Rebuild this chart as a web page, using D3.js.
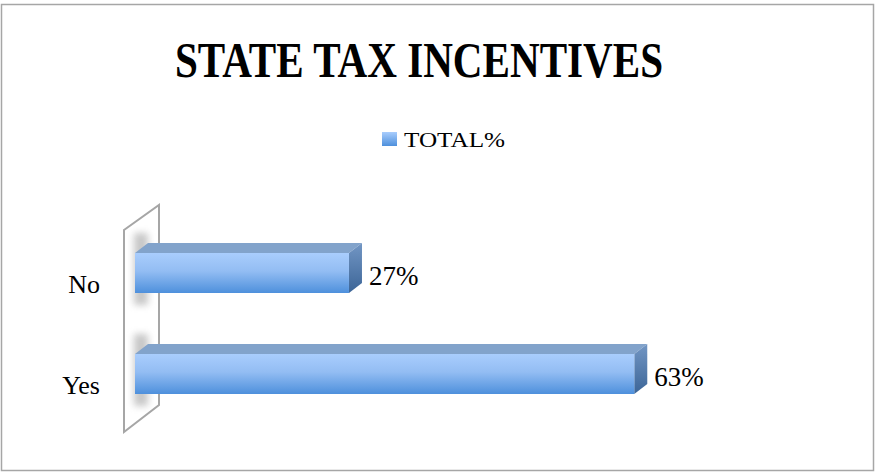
<!DOCTYPE html>
<html><head><meta charset="utf-8">
<script src="https://cdn.jsdelivr.net/npm/d3@7"></script>
<style>body{margin:0;background:#fff}svg{display:block}</style>
</head><body>
<script>
const titleText = "STATE TAX INCENTIVES";
const seriesName = "TOTAL%";
const categories = ["No", "Yes"];
const values = [0.27, 0.63];
const valueLabels = ["27%", "63%"];

const W = 876, H = 473;
const svg = d3.select("body").append("svg").attr("width", W).attr("height", H);
const defs = svg.append("defs");
const gFront = defs.append("linearGradient").attr("id","gFront").attr("x1",0).attr("y1",0).attr("x2",0).attr("y2",1);
gFront.append("stop").attr("offset","0%").attr("stop-color","#a9cdfd");
gFront.append("stop").attr("offset","45%").attr("stop-color","#93bdf3");
gFront.append("stop").attr("offset","100%").attr("stop-color","#4e90dc");
const gSide = defs.append("linearGradient").attr("id","gSide").attr("x1",0).attr("y1",0).attr("x2",0).attr("y2",1);
gSide.append("stop").attr("offset","0%").attr("stop-color","#7296c4");
gSide.append("stop").attr("offset","100%").attr("stop-color","#3c6597");
const gLeg = defs.append("linearGradient").attr("id","gLeg").attr("x1",0).attr("y1",0).attr("x2",0).attr("y2",1);
gLeg.append("stop").attr("offset","0%").attr("stop-color","#a9cdfd");
gLeg.append("stop").attr("offset","100%").attr("stop-color","#4e90dc");
defs.append("filter").attr("id","blur").attr("x","-100%").attr("y","-50%").attr("width","300%").attr("height","200%")
  .append("feGaussianBlur").attr("stdDeviation",3.5);

// outer border
svg.append("rect").attr("x",1.5).attr("y",4.5).attr("width",872).attr("height",466)
  .attr("fill","#fff").attr("stroke","#a6a6a6").attr("stroke-width",1.5);

// title
svg.append("text").attr("x",419).attr("y",77).attr("text-anchor","middle")
  .attr("font-family","'Liberation Serif', 'DejaVu Serif', serif").attr("font-weight","bold")
  .attr("font-size",50).attr("textLength",488).attr("lengthAdjust","spacingAndGlyphs")
  .attr("fill","#000").text(titleText);

// legend
svg.append("rect").attr("x",382).attr("y",132).attr("width",15).attr("height",14).attr("fill","url(#gLeg)");
svg.append("text").attr("x",404).attr("y",146.5)
  .attr("font-family","'Liberation Serif', serif").attr("font-size",22)
  .attr("textLength",101).attr("lengthAdjust","spacingAndGlyphs")
  .attr("fill","#000").text(seriesName);

// scales
const x0 = 135;
const x = d3.scaleLinear().domain([0, 0.8]).range([x0, x0 + 634]);
const y = d3.scalePoint().domain(categories).range([273, 374]);
const barH = 40, dx = 13, dy = -10;

// wall
svg.append("polygon").attr("points","124,230 159,205 159,405 124,432")
  .attr("fill","#fff").attr("stroke","#a6a6a6").attr("stroke-width",2);

const data = categories.map((c,i)=>({c, v: values[i], label: valueLabels[i]}));

// shadows on wall
svg.selectAll(".shadow").data(data).enter().append("rect")
  .attr("x", 134).attr("y", d => y(d.c) - barH/2 - 20).attr("width", 14).attr("height", barH + 32)
  .attr("fill","#9a9a9a").attr("opacity",0.55).attr("filter","url(#blur)");

const bars = svg.selectAll(".bar").data(data).enter().append("g");
// top face
bars.append("polygon").attr("points", d => {
  const t = y(d.c) - barH/2, r = x(d.v);
  return `${x0},${t} ${x0+dx},${t+dy} ${r+dx},${t+dy} ${r},${t}`;
}).attr("fill","#82a3cb");
// side face
bars.append("polygon").attr("points", d => {
  const t = y(d.c) - barH/2, r = x(d.v);
  return `${r},${t} ${r+dx},${t+dy} ${r+dx},${t+barH+dy} ${r},${t+barH}`;
}).attr("fill","url(#gSide)");
// front face
bars.append("rect").attr("x", x0).attr("y", d => y(d.c) - barH/2)
  .attr("width", d => x(d.v) - x0).attr("height", barH).attr("fill","url(#gFront)");

// value labels
bars.append("text").attr("x", d => x(d.v) + dx + 7).attr("y", d => y(d.c) + 12)
  .attr("font-family","'Liberation Serif', serif").attr("font-size",27)
  .attr("fill","#000").text(d => d.label);

// category labels
svg.selectAll(".cat").data(categories).enter().append("text")
  .attr("x", 100).attr("y", d => y(d) + 19.5).attr("text-anchor","end")
  .attr("font-family","'Liberation Serif', serif").attr("font-size",26)
  .attr("fill","#000").text(d => d);
</script>
</body></html>
